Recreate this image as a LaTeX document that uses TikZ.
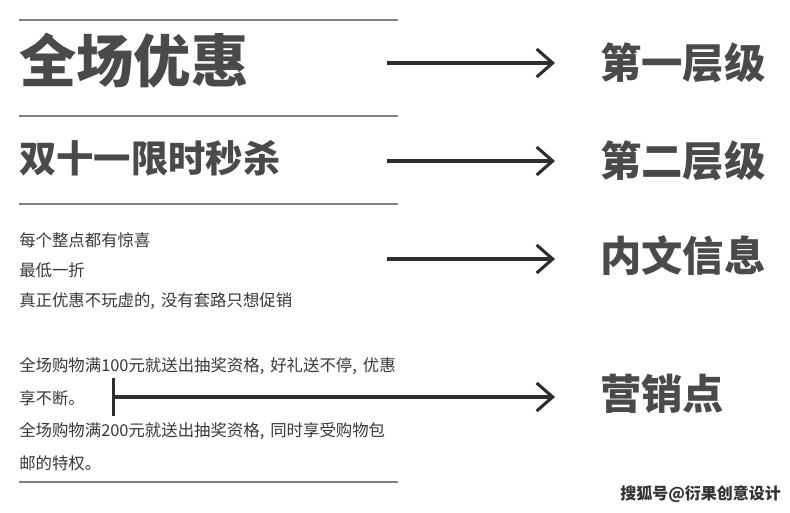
\documentclass[tikz,border=0pt]{standalone}
\usepackage{fontspec}
\setmainfont{Noto Sans CJK SC}
\usetikzlibrary{arrows.meta}
\definecolor{head}{HTML}{4A4A4A}
\definecolor{body}{HTML}{383838}
\definecolor{rule}{HTML}{808080}
\definecolor{arrow}{HTML}{2E2E2E}
\newcommand{\cm}{,\hspace{4.5pt}}
\tikzset{
	big/.style={anchor=west,inner sep=0pt,text=head,font=\bfseries\fontsize{43}{43}\selectfont},
	mid/.style={anchor=west,inner sep=0pt,text=head,font=\bfseries\fontsize{28}{28}\selectfont},
	level/.style={anchor=west,inner sep=0pt,text=head,font=\bfseries\fontsize{31}{31}\selectfont},
	small/.style={anchor=west,inner sep=0pt,text=body,font=\fontsize{12.3}{12.3}\selectfont},
	sep/.style={draw=rule,line width=1.5pt},
	arr/.style={draw=arrow,line width=2.3pt,-{Straight Barb[length=12pt,width=21pt]}}
}
\begin{document}
\begin{tikzpicture}[x=0.75pt,y=-0.75pt]
		\useasboundingbox [fill=white] (0,0) rectangle (790,513);
		% separators
		\foreach \y in {20,116,204,482}
			\draw [sep] (19,\y) -- (398,\y);
		% left column
		\node [big] (all) at (19,61) {全场优惠};
		\node [mid] (sale) at (19,158) {双十一限时秒杀};
		\node [small] (t1) at (19,240) {每个整点都有惊喜};
		\node [small] (t2) at (19,270) {最低一折};
		\node [small] (t3) at (19,301) {真正优惠不玩虚的\cm 没有套路只想促销};
		\node [small] (m1) at (19,366) {全场购物满100元就送出抽奖资格\cm 好礼送不停\cm 优惠};
		\node [small] (m2) at (19,398) {享不断。};
		\node [small] (m3) at (19,431) {全场购物满200元就送出抽奖资格\cm 同时享受购物包};
		\node [small] (m4) at (19,463) {邮的特权。};
		% right column
		\node [level] (l1) at (600,63) {第一层级};
		\node [level] (l2) at (600,161) {第二层级};
		\node [level] (l3) at (600,256) {内文信息};
		\node [level] (l4) at (600,394) {营销点};
		\coordinate (s1) at (387,63);
		\coordinate (s2) at (387,161);
		\coordinate (s3) at (387,259);
		\coordinate (s4) at (112,397);
		\coordinate (e1) at (555,63);
		\coordinate (e2) at (555,161);
		\coordinate (e3) at (555,259);
		\coordinate (e4) at (555,397);
		\draw [arr] (s1) -- (e1);
		\draw [arr] (s2) -- (e2);
		\draw [arr] (s3) -- (e3);
		\draw [arr,{Bar[width=28pt]}-{Straight Barb[length=12pt,width=21pt]}] (s4) -- (e4);
		\node [anchor=west,inner sep=0pt,text=black!80,font=\bfseries\fontsize{12}{12}\selectfont] (mark) at (620,494) {搜狐号@衍果创意设计};
	\end{tikzpicture}
\end{document}
